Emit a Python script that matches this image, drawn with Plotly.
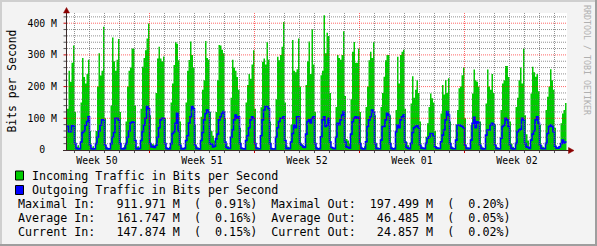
import plotly.graph_objects as go

# ---------------- data (Mbit/s, one value per 0.1-day bin) ----------------
bin_days = 0.1
incoming = [
    130, 250, 215, 275, 330, 120, 10, 15, 8,
    150, 290, 230, 210, 240, 285, 60, 8, 12, 5,
    60, 200, 305, 235, 250, 389, 100, 10, 6, 5,
    140, 355, 280, 250, 285, 350, 120, 5, 8, 15,
    90, 200, 250, 260, 320, 320, 140, 10, 12, 6,
    130, 263, 290, 315, 352, 399, 110, 20, 18, 10,
    180, 289, 326, 289, 280, 295, 100, 8, 5, 10,
    150, 210, 268, 341, 335, 283, 90, 10, 6, 8,
    150, 250, 284, 342, 300, 260, 80, 12, 8, 6,
    105, 190, 220, 344, 290, 285, 120, 60, 45, 30,
    120, 220, 331, 330, 316, 305, 100, 20, 12, 8,
    165, 285, 260, 250, 230, 190, 70, 8, 6, 5,
    150, 205, 240, 225, 270, 315, 130, 10, 8, 6,
    135, 278, 289, 270, 341, 285, 90, 8, 5, 6,
    160, 294, 283, 300, 326, 404, 150, 15, 10, 8,
    80, 347, 250, 245, 255, 352, 200, 20, 15, 10,
    205, 280, 342, 240, 381, 270, 120, 10, 6, 8,
    236, 250, 425, 305, 370, 360, 180, 10, 8, 5,
    136, 300, 290, 285, 300, 375, 170, 35, 30, 20,
    160, 310, 341, 275, 275, 320, 120, 10, 6, 12,
    136, 200, 283, 310, 290, 341, 110, 20, 8, 6,
    136, 180, 231, 283, 300, 300, 110, 10, 6, 8,
    126, 294, 210, 300, 310, 316, 130, 25, 15, 8,
    147, 233, 165, 190, 220, 180, 90, 12, 8, 6,
    42, 84, 136, 178, 163, 150, 60, 10, 8, 6,
    115, 205, 175, 221, 180, 226, 90, 12, 8, 6,
    79, 126, 195, 200, 236, 260, 100, 10, 8, 6,
    79, 178, 254, 220, 215, 200, 90, 12, 8, 6,
    147, 254, 200, 190, 240, 180, 80, 10, 8, 6,
    126, 210, 220, 265, 265, 230, 90, 20, 10, 6,
    136, 165, 220, 260, 210, 320, 110, 50, 30, 10,
    178, 263, 245, 231, 240, 185, 80, 15, 10, 8,
    126, 168, 200, 255, 220, 190, 70, 10, 8, 6,
    84, 115, 126, 148,
]
outgoing = [
    75, 58, 58, 76, 76, 20, 5, 3, 4,
    25, 55, 60, 78, 90, 105, 15, 4, 3, 4,
    20, 40, 60, 78, 95, 95, 15, 5, 3, 4,
    20, 40, 55, 100, 100, 95, 20, 4, 3, 5,
    20, 40, 60, 85, 88, 88, 30, 4, 3, 5,
    30, 58, 79, 100, 137, 130, 20, 10, 12, 8,
    15, 40, 70, 95, 100, 100, 20, 5, 3, 4,
    20, 52, 58, 84, 116, 60, 15, 4, 3, 5,
    30, 45, 85, 105, 137, 130, 15, 5, 4, 3,
    30, 55, 95, 115, 126, 120, 20, 18, 10, 12,
    35, 50, 95, 105, 116, 121, 25, 8, 5, 5,
    40, 63, 95, 110, 100, 105, 20, 5, 4, 3,
    30, 45, 70, 95, 105, 100, 20, 5, 4, 4,
    45, 95, 126, 137, 137, 130, 20, 4, 3, 3,
    40, 70, 90, 100, 100, 105, 30, 5, 4, 5,
    25, 52, 79, 70, 105, 105, 20, 15, 10, 8,
    50, 90, 95, 85, 100, 105, 20, 5, 3, 4,
    42, 95, 105, 74, 79, 100, 25, 8, 5, 4,
    40, 84, 80, 95, 110, 121, 25, 10, 8, 6,
    50, 89, 100, 105, 100, 103, 20, 5, 3, 4,
    26, 74, 95, 105, 126, 120, 20, 5, 4, 4,
    31, 74, 74, 95, 116, 110, 20, 5, 3, 4,
    58, 79, 70, 95, 105, 110, 25, 8, 5, 4,
    21, 55, 70, 74, 76, 70, 15, 6, 5, 4,
    21, 37, 42, 52, 52, 45, 10, 6, 5, 5,
    26, 47, 63, 95, 121, 110, 20, 6, 4, 4,
    31, 79, 79, 76, 74, 70, 15, 5, 4, 5,
    31, 84, 103, 70, 89, 85, 15, 5, 3, 4,
    47, 63, 63, 79, 84, 80, 15, 5, 4, 4,
    37, 74, 79, 100, 95, 74, 15, 5, 3, 4,
    21, 58, 63, 66, 100, 95, 20, 10, 8, 5,
    31, 50, 60, 95, 105, 84, 15, 5, 4, 4,
    21, 52, 74, 79, 74, 58, 12, 6, 6, 10,
    20, 31, 22, 25,
]
week_labels = ["Week 50", "Week 51", "Week 52", "Week 01", "Week 02"]
week_label_days = [2.0, 9.0, 16.0, 23.0, 30.0]
y_ticks = [0, 100, 200, 300, 400]
y_ticktext = ["0  ", "100 M", "200 M", "300 M", "400 M"]
legend_names = ["Incoming Traffic in Bits per Second", "Outgoing Traffic in Bits per Second"]
stat_rows = ["Maximal", "Average", "Current"]
stat_in = [911.971, 161.747, 147.874]
stat_in_pct = [0.91, 0.16, 0.15]
stat_out = [197.499, 46.485, 24.857]
stat_out_pct = [0.20, 0.05, 0.02]

# ---------------- layout geometry ----------------
W, H = 597, 246
L, R, T, B = 67, 567, 13, 150
X_MAX = (R - L) / 15.0          # 15 px per day
Y_MAX = (B - T) / 0.317         # 31.7 px per 100 M
FONT = "DejaVu Sans Mono"
GREEN, BLUE = "#00CC00", "#0000FF"
NB = "\u00a0"

def px_x(px):
    return (px - L) / (R - L)

def px_y(py):
    return (B - py) / (B - T)

xs = [i * bin_days for i in range(len(incoming))]
xs_step = xs + [len(incoming) * bin_days]
inc_step = incoming + [incoming[-1]]
out_step = outgoing + [outgoing[-1]]

fig = go.Figure()
fig.add_trace(go.Scatter(x=xs_step, y=inc_step, mode="lines", line=dict(width=0, shape="hv", color=GREEN),
                         fill="tozeroy", fillcolor=GREEN, hoverinfo="skip", showlegend=False))
fig.add_trace(go.Scatter(x=xs_step, y=out_step, mode="lines", line=dict(width=1.6, shape="hv", color=BLUE),
                         hoverinfo="skip", showlegend=False))

shapes = []
GRID = "rgba(110,110,110,0.75)"
MGRID = "rgba(255,0,0,0.6)"
DOT = "1px,1px"
# vertical day lines
k = 0
while 0.5 + k < X_MAX:
    xv = 0.5 + k
    major = (k - 5) % 7 == 0
    col = MGRID if major else GRID
    shapes.append(dict(type="line", xref="x", yref="paper", x0=xv, x1=xv, y0=0, y1=1,
                       line=dict(color=col, width=1, dash=DOT), layer="above"))
    shapes.append(dict(type="line", xref="x", yref="paper", x0=xv, x1=xv, y0=px_y(150), y1=px_y(153),
                       line=dict(color="#CC0000" if major else "#555555", width=1), layer="above"))
    k += 1
# horizontal lines
v = 20
while v < Y_MAX:
    major = v % 100 == 0
    col = MGRID if major else GRID
    shapes.append(dict(type="line", xref="paper", yref="y", x0=0, x1=1, y0=v, y1=v,
                       line=dict(color=col, width=1, dash=DOT), layer="above"))
    shapes.append(dict(type="line", xref="paper", yref="y", x0=px_x(63.5), x1=px_x(66.5), y0=v, y1=v,
                       line=dict(color="#CC0000" if major else "#555555", width=1), layer="above"))
    v += 20
# axes
AX = "#3A2A2A"
shapes.append(dict(type="line", xref="paper", yref="paper", x0=px_x(66.5), x1=px_x(66.5), y0=px_y(150.5), y1=px_y(11),
                   line=dict(color=AX, width=1), layer="above"))
shapes.append(dict(type="line", xref="paper", yref="paper", x0=px_x(63), x1=px_x(569), y0=px_y(150.5), y1=px_y(150.5),
                   line=dict(color=AX, width=1), layer="above"))
ARW = "#8B0000"
def path(points):
    d = "M " + " L ".join(f"{px_x(a)},{px_y(b)}" for a, b in points) + " Z"
    return d
shapes.append(dict(type="path", xref="paper", yref="paper", path=path([(63.5, 13), (69.5, 13), (66.5, 7.5)]),
                   fillcolor=ARW, line=dict(color=ARW, width=0.5), layer="above"))
shapes.append(dict(type="path", xref="paper", yref="paper", path=path([(568.5, 147.5), (568.5, 153.5), (574, 150.5)]),
                   fillcolor=ARW, line=dict(color=ARW, width=0.5), layer="above"))
# legend boxes
for i, c in enumerate([GREEN, BLUE]):
    yc = 175.5 + i * 14.5
    shapes.append(dict(type="rect", xref="paper", yref="paper", x0=px_x(15.5), x1=px_x(23.5),
                       y0=px_y(yc - 4.5), y1=px_y(yc + 4.5), fillcolor=c, line=dict(color="black", width=1)))
# outer frame
shapes.append(dict(type="line", xref="paper", yref="paper", x0=px_x(0), x1=px_x(W), y0=px_y(1), y1=px_y(1),
                   line=dict(color="#CFCFCF", width=2)))
shapes.append(dict(type="line", xref="paper", yref="paper", x0=px_x(1), x1=px_x(1), y0=px_y(0), y1=px_y(H),
                   line=dict(color="#CFCFCF", width=2)))
shapes.append(dict(type="line", xref="paper", yref="paper", x0=px_x(0), x1=px_x(W), y0=px_y(H - 1), y1=px_y(H - 1),
                   line=dict(color="#9E9E9E", width=2)))
shapes.append(dict(type="line", xref="paper", yref="paper", x0=px_x(W - 1), x1=px_x(W - 1), y0=px_y(0), y1=px_y(H),
                   line=dict(color="#9E9E9E", width=2)))

annotations = []
def text_ann(txt, px, py, size=11.7, color="black", xanchor="left", angle=0):
    annotations.append(dict(text=txt.replace(" ", NB), x=px_x(px), y=px_y(py), xref="paper", yref="paper",
                            xanchor=xanchor, yanchor="middle", showarrow=False, textangle=angle,
                            font=dict(family=FONT, size=size, color=color)))

text_ann("Bits per Second", 11, 81.5, size=11.4, xanchor="center", angle=-90)
text_ann("RRDTOOL / TOBI OETIKER", 587, 60, size=8.3, color="#B0B0B0", xanchor="center", angle=90)
for i, name in enumerate(legend_names):
    text_ann(name, 29.5, 175.5 + i * 14.5)
for i, row in enumerate(stat_rows):
    line = (f"{row} In:   {stat_in[i]:7.3f} M  ({stat_in_pct[i]:6.2f}%)  "
            f"{row} Out:  {stat_out[i]:7.3f} M  ({stat_out_pct[i]:6.2f}%)")
    text_ann(line, 15.5, 204 + i * 14)

fig.update_layout(
    width=W, height=H,
    margin=dict(l=L, r=W - R, t=T, b=H - B, pad=0, autoexpand=False),
    paper_bgcolor="#F3F3F3", plot_bgcolor="#FFFFFF",
    showlegend=False,
    shapes=shapes, annotations=annotations,
    xaxis=dict(range=[0, X_MAX], showgrid=False, zeroline=False, showline=False,
               tickvals=week_label_days, ticktext=week_labels, ticks="",
               tickfont=dict(family=FONT, size=9.8, color="black"), ticklabelstandoff=3, fixedrange=True),
    yaxis=dict(range=[0, Y_MAX], showgrid=False, zeroline=False, showline=False,
               tickvals=y_ticks, ticktext=[t.replace(" ", NB) for t in y_ticktext], ticks="",
               tickfont=dict(family=FONT, size=9.8, color="black"), ticklabelstandoff=9, fixedrange=True),
)
fig.write_html("out.html", config={"displayModeBar": False})
